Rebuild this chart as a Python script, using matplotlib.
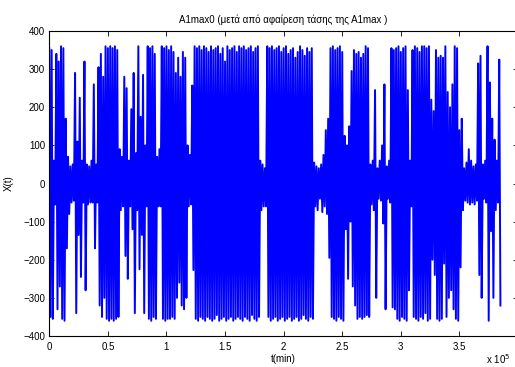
import numpy as np
import matplotlib
matplotlib.use("Agg")
import matplotlib.pyplot as plt

plt.rcParams["font.family"] = ["Liberation Sans", "DejaVu Sans"]

# signal envelope, one pair per 2000-sample block
t_step = 2000
upper = [
    355, 350, 60, 340, 320, 360, 355, 170, 70, 45,
    50, 290, 110, 225, 60, 320, 50, 45, 60, 260,
    50, 305, 340, 280, 360, 355, 360, 355, 360, 350,
    90, 70, 280, 250, 60, 195, 290, 80, 360, 175,
    285, 100, 360, 355, 360, 340, 70, 90, 360, 355,
    360, 350, 360, 345, 290, 330, 280, 345, 330, 100,
    75, 257, 360, 355, 360, 350, 360, 355, 345, 360,
    350, 355, 360, 340, 355, 320, 360, 350, 355, 360,
    345, 360, 355, 360, 350, 355, 360, 345, 355, 360,
    60, 50, 40, 360, 355, 360, 350, 355, 360, 345,
    355, 360, 340, 350, 355, 330, 345, 360, 350, 335,
    355, 345, 355, 55, 45, 40, 50, 75, 140, 170,
    355, 360, 350, 355, 360, 345, 125, 100, 150, 295,
    350, 340, 345, 330, 340, 360, 355, 50, 60, 245,
    40, 60, 100, 260, 45, 60, 355, 350, 355, 360,
    345, 355, 360, 245, 60, 350, 360, 355, 345, 360,
    360, 355, 360, 220, 190, 350, 330, 335, 330, 360,
    240, 200, 260, 360, 355, 140, 170, 40, 55, 90,
    60, 45, 50, 315, 335, 50, 60, 360, 265, 170,
    115, 60, 325,
]
lower = [
    -350, -355, -55, -330, -270, -355, -360, -170, -80, -50,
    -45, -340, -135, -245, -50, -280, -55, -50, -50, -170,
    -50, -320, -350, -300, -355, -360, -355, -360, -355, -350,
    -70, -60, -190, -250, -60, -120, -340, -70, -225, -135,
    -340, -60, -355, -360, -350, -355, -60, -60, -355, -360,
    -355, -355, -350, -355, -300, -260, -320, -330, -300, -60,
    -55, -227, -355, -360, -350, -355, -360, -350, -355, -360,
    -355, -345, -360, -355, -350, -360, -355, -350, -360, -355,
    -350, -355, -360, -350, -355, -360, -345, -355, -360, -350,
    -70, -60, -60, -350, -360, -355, -350, -360, -355, -350,
    -360, -355, -350, -360, -355, -350, -360, -355, -345, -355,
    -360, -350, -355, -60, -70, -40, -75, -60, -80, -195,
    -350, -355, -360, -350, -355, -360, -120, -250, -100, -270,
    -320, -355, -350, -355, -350, -345, -350, -55, -70, -300,
    -40, -45, -105, -330, -40, -50, -325, -330, -355, -360,
    -350, -355, -360, -280, -60, -350, -355, -360, -350, -355,
    -340, -360, -355, -200, -240, -355, -360, -355, -210, -350,
    -300, -280, -330, -355, -360, -220, -70, -45, -50, -55,
    -50, -55, -45, -240, -300, -40, -50, -360, -125, -300,
    -70, -50, -320,
]

x_ticks = [0, 0.5, 1, 1.5, 2, 2.5, 3, 3.5, 4]
x_labels = ["0", "0.5", "1", "1.5", "2", "2.5", "3", "3.5", ""]
y_ticks = [-400, -300, -200, -100, 0, 100, 200, 300, 400]

blocks = np.arange(len(upper)) * t_step
t = np.column_stack([blocks, blocks + t_step / 2]).ravel()
x = np.column_stack([upper, lower]).ravel()

fig = plt.figure(figsize=(5.15, 3.67), dpi=100)
ax = fig.add_axes([49.3 / 515, 1 - 336 / 367, 468.7 / 515, 305 / 367])
ax.plot(t, x, color=(0, 0, 1), linewidth=1.4)

ax.set_xlim(0, 4e5)
ax.set_ylim(-400, 400)
ax.set_xticks([v * 1e5 for v in x_ticks])
ax.set_xticklabels(x_labels)
ax.set_yticks(y_ticks)
ax.tick_params(direction="in", length=3.5, width=0.6, labelsize=7,
               top=True, right=True, pad=4)
ax.tick_params(axis="y", pad=3)
for s in ax.spines.values():
    s.set_linewidth(0.8)

ax.set_title("A1max0 (μετά από αφαίρεση τάσης της A1max )", fontsize=7, pad=6)
ax.set_xlabel("t(min)", fontsize=7)
ax.set_ylabel("X(t)", fontsize=7)
ax.xaxis.set_label_coords(0.5, -0.059)
ax.yaxis.set_label_coords(-0.075, 0.5)

fig.text(486 / 515, 0.008, "x 10$^{5}$", fontsize=7, va="baseline")

fig.savefig("out.png", dpi=100)
